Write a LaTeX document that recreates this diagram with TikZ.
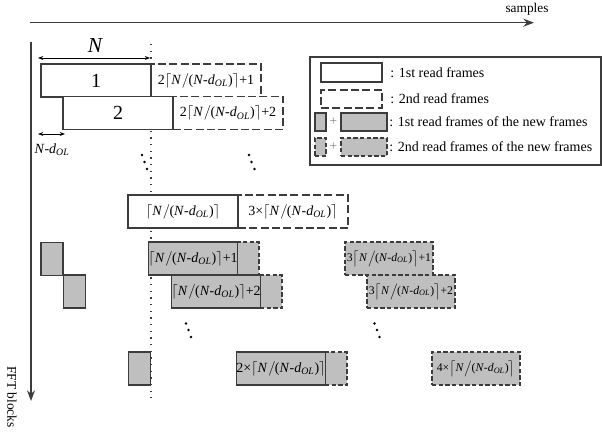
\documentclass[tikz,border=0pt]{standalone}
\usepackage{fontspec}
\setmainfont{Liberation Serif}
\usetikzlibrary{arrows.meta}
\definecolor{lc}{RGB}{60,60,60}
\definecolor{gf}{RGB}{191,191,191}
\newcommand{\cexpr}{$\bigl\lceil$\textit{N}\kern0.5pt$\big/$\kern-0.5pt(\textit{N}-\textit{d}\textsubscript{\textit{OL}})$\bigr\rceil$}
\tikzset{
  sz/.style 2 args={minimum width=#1*0.75pt, minimum height=#2*0.75pt, inner sep=0pt, outer sep=0pt},
  frm/.style={draw=lc, line width=0.8pt, fill=white},
  dfrm/.style={draw=lc, line width=0.8pt, fill=white, dash pattern=on 6pt off 2.5pt},
  gfrm/.style={draw=lc, line width=0.8pt, fill=gf},
  gdfrm/.style={draw=lc, line width=0.8pt, fill=gf, dash pattern=on 3.2pt off 1.8pt},
  lbl/.style={font=\fontsize{10.5}{12}\selectfont},
  slbl/.style={font=\fontsize{8.8}{10}\selectfont},
  big/.style={font=\fontsize{15}{17}\selectfont},
  legt/.style={anchor=west, inner sep=0pt, font=\fontsize{10.5}{12}\selectfont},
  ax/.style={draw=lc, line width=1pt, -{Stealth[length=8pt,width=6pt]}},
  dim/.style={draw=black, line width=0.6pt, {Stealth[length=4pt,width=3pt]}-{Stealth[length=4pt,width=3pt]}},
  dot/.style={fill=black}
}
\begin{document}
\begin{tikzpicture}[x=0.75pt,y=-0.75pt]
\useasboundingbox (0,0) rectangle (602,434);
% axes
\coordinate (hx0) at (30,22.7);
\coordinate (hx1) at (534,22.7);
\draw[ax] (hx0) -- (hx1);
\node[font=\fontsize{10}{12}\selectfont] (samples) at (527,9) {samples};
\coordinate (vy0) at (31,42);
\coordinate (vy1) at (31,401);
\draw[ax] (vy0) -- (vy1);
\node[font=\fontsize{10}{12}\selectfont, rotate=-90] (fft) at (12,397) {FFT blocks};
% dotted guide
\coordinate (dl0) at (151,44);
\coordinate (dl1) at (151,398);
\draw[lc, line width=0.9pt, dash pattern=on 1pt off 4pt] (dl0) -- (dl1);
% N dimension
\coordinate (n0) at (38,58);
\coordinate (n1) at (150,58);
\draw[dim] (n0) -- (n1);
\node[font=\fontsize{16}{18}\selectfont\itshape] (nlab) at (95,46) {N};
% N-dOL dimension
\coordinate (m0) at (38,134);
\coordinate (m1) at (65,134);
\draw[dim] (m0) -- (m1);
\node[lbl] (mlab) at (52,150) {\textit{N}-\textit{d}\textsubscript{\textit{OL}}};
% frames 1 and 2
\node[dfrm, sz={110}{33}, lbl] (d1) at (206,80.5) {2\cexpr+1};
\node[frm, sz={110}{33}, big] (f1) at (96,80.5) {1};
\node[dfrm, sz={110}{33}, lbl] (d2) at (228,113) {2\cexpr+2};
\node[frm, sz={110}{33}, big] (f2) at (118,113) {2};
% dots
\foreach \x/\y in {142/155,144.5/162,147/169,249/155,251.5/162,254.5/169,186/323.5,188.5/330,191/337,374.5/323.5,377/330,379.5/337}
  \fill[dot] (\x,\y) circle (1.4);
% middle row
\node[dfrm, sz={110}{33}, lbl] (d3) at (293,211.5) {3\texttimes\cexpr};
\node[frm, sz={110}{33}, lbl] (f3) at (183,211.5) {\cexpr};
% gray rows
\node[gfrm, sz={22}{33}] (s1) at (52,259) {};
\node[gdfrm, sz={22}{33}] (e1) at (248,258.5) {};
\node[gfrm, sz={88}{33}, lbl] (g1) at (193,258.5) {\cexpr+1};
\node[gdfrm, sz={88}{33}, slbl] (r1) at (389,258.5) {3\cexpr+1};
\node[gfrm, sz={22}{33}] (s2) at (74.5,291.5) {};
\node[gdfrm, sz={22}{33}] (e2) at (271,291.5) {};
\node[gfrm, sz={88}{33}, lbl] (g2) at (216,291.5) {\cexpr+2};
\node[gdfrm, sz={88}{33}, slbl] (r2) at (411,291.5) {3\cexpr+2};
\node[gfrm, sz={22}{33}] (s3) at (139.5,368.5) {};
\node[gdfrm, sz={22}{33}] (e3) at (336,368.5) {};
\node[gfrm, sz={88}{33}, lbl] (g3) at (281,368.5) {2\texttimes\cexpr};
\node[gdfrm, sz={88}{33}, slbl] (r3) at (476,368.5) {4\texttimes\cexpr};
% legend
\node[draw=lc, line width=0.8pt, sz={291}{108}] (leg) at (455.5,111) {};
\node[frm, sz={61}{19}] (l1) at (351.5,72.5) {};
\node[legt] (l1t) at (390,73) {: 1st read frames};
\node[dfrm, sz={61}{18}] (l2) at (351.5,99) {};
\node[legt] (l2t) at (390,99) {: 2nd read frames};
\node[gfrm, sz={11}{18}] (l3a) at (320.5,122) {};
\node[font=\fontsize{10}{12}\selectfont, text=gray] (l3p) at (333.5,122) {+};
\node[gfrm, sz={46}{18}] (l3b) at (364,122) {};
\node[legt] (l3t) at (389,122) {: 1st read frames of the new frames};
\node[gdfrm, sz={11}{18}] (l4a) at (320.5,147) {};
\node[font=\fontsize{10}{12}\selectfont, text=gray] (l4p) at (333.5,147) {+};
\node[gdfrm, sz={46}{18}] (l4b) at (364,147) {};
\node[legt] (l4t) at (389,147) {: 2nd read frames of the new frames};
\end{tikzpicture}
\end{document}
